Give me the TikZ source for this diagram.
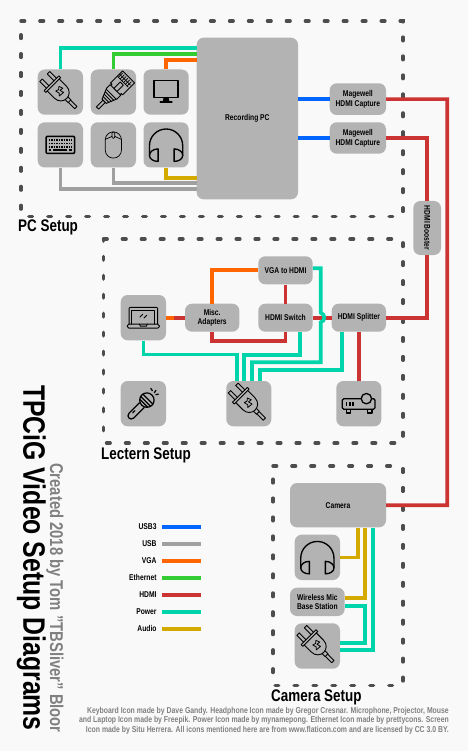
\documentclass[tikz,border=0pt]{standalone}
\usepackage{fontspec}
\setmainfont{Liberation Sans}[FakeStretch=0.8]
\usetikzlibrary{calc}
\definecolor{bg}{HTML}{F9F9F9}
\definecolor{boxgray}{HTML}{B3B3B3}
\definecolor{dashgray}{HTML}{4D4D4D}
\definecolor{cusbthree}{HTML}{0066FF}
\definecolor{cusb}{HTML}{A0A0A0}
\definecolor{cvga}{HTML}{FF6600}
\definecolor{ceth}{HTML}{33CC33}
\definecolor{chdmi}{HTML}{CC3333}
\definecolor{cpower}{HTML}{00D4AA}
\definecolor{caudio}{HTML}{D4AA00}
\definecolor{txtgray}{HTML}{808080}
\tikzset{
  zone/.style={draw=dashgray,line width=3.5pt,line cap=round,dash pattern=on 3.6pt off 15.36pt},
  gbox/.style={fill=boxgray,rounded corners=7pt,inner sep=0pt,align=center,font=\fontsize{8.4}{9.7}\selectfont\bfseries},
  wire/.style={line width=3.7pt,line join=miter},
  usbthree/.style={wire,cusbthree},
  usb/.style={wire,cusb},
  vga/.style={wire,cvga},
  eth/.style={wire,ceth},
  hdmi/.style={wire,chdmi},
  power/.style={wire,cpower},
  audio/.style={wire,caudio},
  zonelabel/.style={anchor=base west,inner sep=0pt,font=\fontsize{16.8}{18}\selectfont\bfseries},
  legendtxt/.style={anchor=east,inner sep=0pt,font=\fontsize{8.4}{10}\selectfont\bfseries},
  ic/.style={draw=black,line width=.9pt,line join=round,line cap=round},
  iconplug/.pic={
    \begin{scope}[rotate=-45,ic]
      \draw (-22,-7) -- (-12.5,-7) (-22,-3.6) -- (-12.5,-3.6);
      \draw (-22,3.6) -- (-12.5,3.6) (-22,7) -- (-12.5,7);
      \draw (-22,-7) -- (-22,-3.6) (-22,3.6) -- (-22,7);
      \draw (-12.5,-10.5) rectangle (-10,10.5);
      \draw (-10,-8.5) -- (0,-8.5) .. controls (6,-8.5) and (9,-4) .. (9,0) .. controls (9,4) and (6,8.5) .. (0,8.5) -- (-10,8.5);
      \draw (9,-2) -- (13,-2) -- (13,2) -- (9,2);
      \draw (13,-1.6) -- (22,-1.6) -- (22,1.6) -- (13,1.6);
      \draw[line width=.8pt] (-5,-3) -- (-1,-4.5) -- (-1.5,-1) -- (2.5,-2) -- (2,3.5) -- (0,1.5) -- (-4,2.5) -- (-3,-.5) -- cycle;
    \end{scope}},
  iconeth/.pic={
    \begin{scope}[rotate=45,ic]
      \draw (-22.5,-1.6) -- (-13,-1.6) (-22.5,1.6) -- (-13,1.6) (-22.5,-1.6) -- (-22.5,1.6);
      \draw (-13,-3) -- (-13,3) -- (-2,7.5) -- (3,7.5) -- (3,-7.5) -- (-2,-7.5) -- cycle;
      \draw (-10.5,-4) -- (-10.5,4) (-8,-5) -- (-8,5) (-5.5,-6) -- (-5.5,6) (-3,-7) -- (-3,7);
      \draw (3,-6.5) -- (4.5,-6.5) -- (4.5,-8.5) -- (21.5,-8.5) -- (21.5,8.5) -- (4.5,8.5) -- (4.5,6.5) -- (3,6.5);
      \draw[fill=boxgray] (3,-2.2) rectangle (12,2.2);
      \draw[line width=.7pt] (14,-7) -- (20,-7) (14,-4.5) -- (20,-4.5) (14,-2) -- (20,-2) (14,.5) -- (20,.5) (14,3) -- (20,3) (14,5.5) -- (20,5.5);
      \draw[line width=.7pt] (14,-8) -- (14,7) (17,-8) -- (17,7);
    \end{scope}},
  iconscreen/.pic={
    \begin{scope}[ic]
      \draw[line width=1.3pt] (-12,-11.5) rectangle (12,5.5);
      \fill[black] (-2.5,5.5) -- (2.5,5.5) -- (3.2,9) -- (-3.2,9) -- cycle;
      \draw[line width=1.6pt] (-5.8,10.2) -- (5.8,10.2);
    \end{scope}},
  iconkbd/.pic={
    \begin{scope}[ic]
      \draw[line width=1.5pt,rounded corners=1pt] (-14.2,-8.6) rectangle (14.2,8.6);
      \draw[line width=1.7pt,dash pattern=on 1.4pt off 1.1pt,line cap=butt] (-11.5,-5) -- (11.5,-5);
      \draw[line width=1.7pt,dash pattern=on 1.4pt off 1.1pt,line cap=butt] (-11.5,-1.5) -- (11.5,-1.5);
      \draw[line width=1.7pt,dash pattern=on 1.4pt off 1.1pt,line cap=butt] (-11.5,2) -- (11.5,2);
      \draw[line width=1.7pt,line cap=butt] (-7,5.4) -- (7,5.4);
      \draw[line width=1.7pt,line cap=butt] (-11.5,5.4) -- (-9,5.4) (9,5.4) -- (11.5,5.4);
    \end{scope}},
  iconmouse/.pic={
    \begin{scope}[ic,line width=.7pt]
      \draw[rounded corners=8pt] (-8.1,-13) rectangle (8.1,13.2);
      \draw[rounded corners=1.2pt] (-1.4,-13) rectangle (1.4,-6.5);
      \draw (-8.1,-5.5) -- (-1.4,-8.5) (8.1,-5.5) -- (1.4,-8.5);
    \end{scope}},
  iconphones/.pic={
    \begin{scope}[ic,line width=1.35pt]
      \draw (-16.6,10.5) -- (-16.6,.7) arc[start angle=180,end angle=360,radius=16.6] -- (16.6,10.5);
      \draw (-8,4) -- (-8,16.5) .. controls (-13,16.5) and (-16.6,14) .. (-16.6,10.5) .. controls (-16.6,7) and (-13,4) .. (-8,4) -- cycle;
      \draw (8,4) -- (8,16.5) .. controls (13,16.5) and (16.6,14) .. (16.6,10.5) .. controls (16.6,7) and (13,4) .. (8,4) -- cycle;
    \end{scope}},
  iconlaptop/.pic={
    \begin{scope}[ic]
      \draw[rounded corners=1pt] (-14.3,6.5) -- (-14.3,-10.3) -- (14.3,-10.3) -- (14.3,6.5);
      \draw (-11.5,6.5) -- (-11.5,-7.7) -- (11.5,-7.7) -- (11.5,6.5);
      \draw[rounded corners=1.6pt] (-16,6.5) rectangle (16,10.5);
      \draw (-4,6.5) -- (-3,8.5) -- (3,8.5) -- (4,6.5);
      \draw (-3.5,-.5) -- (-.5,-3.5) (.5,.5) -- (3.5,-2.5);
    \end{scope}},
  iconmic/.pic={
    \begin{scope}[ic,line width=1.25pt]
      \begin{scope}[rotate=45]
        \draw (-2,-3.3) -- (-17,-3.3) .. controls (-21.4,-3.3) and (-21.4,3.3) .. (-17,3.3) -- (-2,3.3);
        \draw (-14,-1) -- (-11,-1);
        \draw[fill=boxgray] (5,0) circle[radius=7.2];
        \draw (0.5,-5.6) -- (0.5,5.6) (3.2,-7) -- (3.2,7) (6.4,-7) -- (6.4,7);
      \end{scope}
      \draw (7.5,-15.2) -- (9,-13) (12.5,-13.2) -- (11,-11) (15,-9.5) -- (12.5,-9);
    \end{scope}},
  iconproj/.pic={
    \begin{scope}[ic,line width=1.3pt]
      \draw[rounded corners=1.5pt] (-16.5,-5) rectangle (16.2,5.6);
      \draw (-12.5,5.6) rectangle (-8,9.3) (8.7,5.6) rectangle (13.2,9.3);
      \draw[fill=boxgray] (7.6,-5) circle[radius=5.2];
      \draw[line width=1.7pt,line cap=butt] (-12.3,-1.5) -- (-12.3,2) (-9,-1.5) -- (-9,2) (-5.7,-1.5) -- (-5.7,2);
    \end{scope}},
}
\newcommand\gnode[6]{%
  \pgfmathsetmacro\cx{(#2+#4)/2}\pgfmathsetmacro\cy{(#3+#5)/2}%
  \pgfmathsetmacro\ww{#4-#2}\pgfmathsetmacro\hh{#5-#3}%
  \node[gbox,minimum width=\ww pt,minimum height=\hh pt] (#1) at (\cx,\cy) {#6};}
\begin{document}
\begin{tikzpicture}[x=1pt,y=-1pt]
\useasboundingbox (0,0) rectangle (468,751);
\fill[bg] (0,0) rectangle (468,751);
% zones
\draw[zone] (21,21) -- (403,21) -- (403,216.5) -- (21,216.5) -- cycle;
\draw[zone] (103.5,239) -- (403,239) -- (403,443) -- (103.5,443) -- cycle;
\draw[zone] (273,466) -- (403,466) -- (403,685.7) -- (273,685.7) -- cycle;
\node[zonelabel] (lpc) at (18,231.8) {PC Setup};
\node[zonelabel] (llec) at (101,459.3) {Lectern Setup};
\node[zonelabel] (lcam) at (271,701.8) {Camera Setup};
% PC setup
\gnode{pcpw}{37.7}{69.5}{83}{114.7}{}
\gnode{pceth}{90.7}{69.5}{136}{114.7}{}
\gnode{pcscr}{143.5}{69.5}{188.7}{114.7}{}
\gnode{pckbd}{37.7}{122.3}{83}{167.5}{}
\gnode{pcmouse}{90.7}{122.3}{136}{167.5}{}
\gnode{pcphones}{143.5}{122.3}{188.7}{167.5}{}
\gnode{pc}{196.7}{37.7}{298}{199.3}{Recording PC}
\gnode{mwa}{329.7}{83.3}{386}{115}{Magewell\\HDMI Capture}
\gnode{mwb}{329.7}{122.3}{386}{153.7}{Magewell\\HDMI Capture}
\gnode{boost}{413.3}{201}{441}{255}{\rotatebox{-90}{HDMI Booster}}
% Lectern
\gnode{laptop}{120.7}{295}{166}{340.3}{}
\gnode{mic}{120.7}{381}{166}{426.3}{}
\gnode{lpw}{226.3}{381}{271.3}{426.3}{}
\gnode{misc}{185}{303.7}{239.3}{331.7}{Misc.\\Adapters}
\gnode{vgah}{258.3}{256.3}{312.7}{284.3}{VGA to HDMI}
\gnode{sw}{258.3}{303.7}{312.7}{331.7}{HDMI Switch}
\gnode{split}{331.7}{303.7}{386}{331.7}{HDMI Splitter}
\gnode{proj}{336.3}{381}{381.3}{426.3}{}
% Camera
\gnode{cam}{290}{483}{386}{527.3}{Camera}
\gnode{cphones}{294.7}{534.7}{340}{580}{}
\gnode{wmic}{290}{587.7}{344.7}{616}{Wireless Mic\\Base Station}
\gnode{cpw}{294.7}{623.3}{340}{668.7}{}
% icons
\pic at (pcpw.center) {iconplug};
\pic at (pceth.center) {iconeth};
\pic at (pcscr.center) {iconscreen};
\pic at (pckbd.center) {iconkbd};
\pic at (pcmouse.center) {iconmouse};
\pic at (pcphones.center) {iconphones};
\pic at (laptop.center) {iconlaptop};
\pic at (mic.center) {iconmic};
\pic at (lpw.center) {iconplug};
\pic at (proj.center) {iconproj};
\pic at (cphones.center) {iconphones};
\pic at (cpw.center) {iconplug};
% PC connectors
\draw[power] (pcpw.north) |- (pc.west |- 0,48.3);
\draw[eth] (pceth.north) |- (pc.west |- 0,54);
\draw[vga] (pcscr.north) |- (pc.west |- 0,59.7);
\draw[usb] (pckbd.south) |- (pc.west |- 0,188.7);
\draw[usb] (pcmouse.south) |- (pc.west |- 0,183);
\draw[audio] (pcphones.south) |- (pc.west |- 0,177.7);
\draw[usbthree] (pc.east |- mwa.west) -- (mwa.west);
\draw[usbthree] (pc.east |- mwb.west) -- (mwb.west);
% HDMI long runs
\draw[hdmi] (mwa.east) -| (447.3,505.2) -- (cam.east);
\draw[hdmi] (mwb.east) -| (boost.north);
\draw[hdmi] (boost.south) |- (split.east);
% Lectern connectors
\coordinate (adapter) at (174,317.7);
\draw[vga] (laptop.east |- adapter) -- (adapter);
\draw[hdmi] (adapter) -- (misc.west);
\draw[vga] (misc.north) |- (vgah.west);
\draw[hdmi] (vgah.south) -- (sw.north);
\draw[hdmi] (misc.south) |- (285.5,341) -- (sw.south);
\draw[hdmi] (sw.east) -- (split.west);
\draw[hdmi] (split.south -| proj.north) -- (proj.north);
\draw[power] (vgah.east |- 0,268.3) -| (320.7,312.8) .. controls (325.5,314) and (325.5,321) .. (320.7,322.3) |- (252,362.3) -- (252,0 |- lpw.north);
\draw[power] (299.7,0 |- sw.south) |- (244.3,355) -- (244.3,0 |- lpw.north);
\draw[power] (laptop.south) |- (237.3,354.5) -- (237.3,0 |- lpw.north);
\draw[power] (341.7,0 |- split.south) |- (260,370) -- (260,0 |- lpw.north);
% Camera connectors
\draw[audio] (cphones.east) -| (357.7,0 |- cam.south);
\draw[audio] (wmic.east |- 0,598) -| (365.3,0 |- cam.south);
\draw[power] (wmic.east |- 0,605.7) -| (365.3,642.7) -- (cpw.east |- 0,642.7);
\draw[power] (373,0 |- cam.south) |- (cpw.east |- 0,650.3);
% Legend
\foreach \nm/\st/\yy/\lbl in {a/usbthree/526.7/USB3,b/usb/543.7/USB,c/vga/560.7/VGA,d/eth/577.7/Ethernet,e/hdmi/594.7/HDMI,f/power/611.7/Power,g/audio/628.7/Audio}{
  \node[legendtxt] (leg\nm) at (156.7,\yy) {\lbl};
  \coordinate (legs\nm) at (162,\yy);
  \coordinate (lege\nm) at (201,\yy);
  \draw[\st] (legs\nm) -- (lege\nm);
}
% Titles
\node[rotate=-90,anchor=base west,inner sep=0pt,font=\fontsize{31}{32}\selectfont\bfseries] (title) at (23.5,385) {TPCiG Video Setup Diagrams};
\node[rotate=-90,anchor=base west,inner sep=0pt,text=txtgray,font=\fontsize{18.5}{20}\selectfont\bfseries] (sub) at (50,463) {Created 2018 by Tom "TBSliver" Bloor};
\node[anchor=north east,inner sep=0pt,align=right,text=txtgray,font=\fontsize{8.6}{8}\selectfont\bfseries] (credits) at (449,707.5) {Keyboard Icon made by Dave Gandy. Headphone Icon made by Gregor Cresnar. Microphone, Projector, Mouse\\and Laptop Icon made by Freepik. Power Icon made by mynamepong. Ethernet Icon made by prettycons. Screen\\Icon made by Situ Herrera. All icons mentioned here are from www.flaticon.com and are licensed by CC 3.0 BY.};
\end{tikzpicture}
\end{document}
